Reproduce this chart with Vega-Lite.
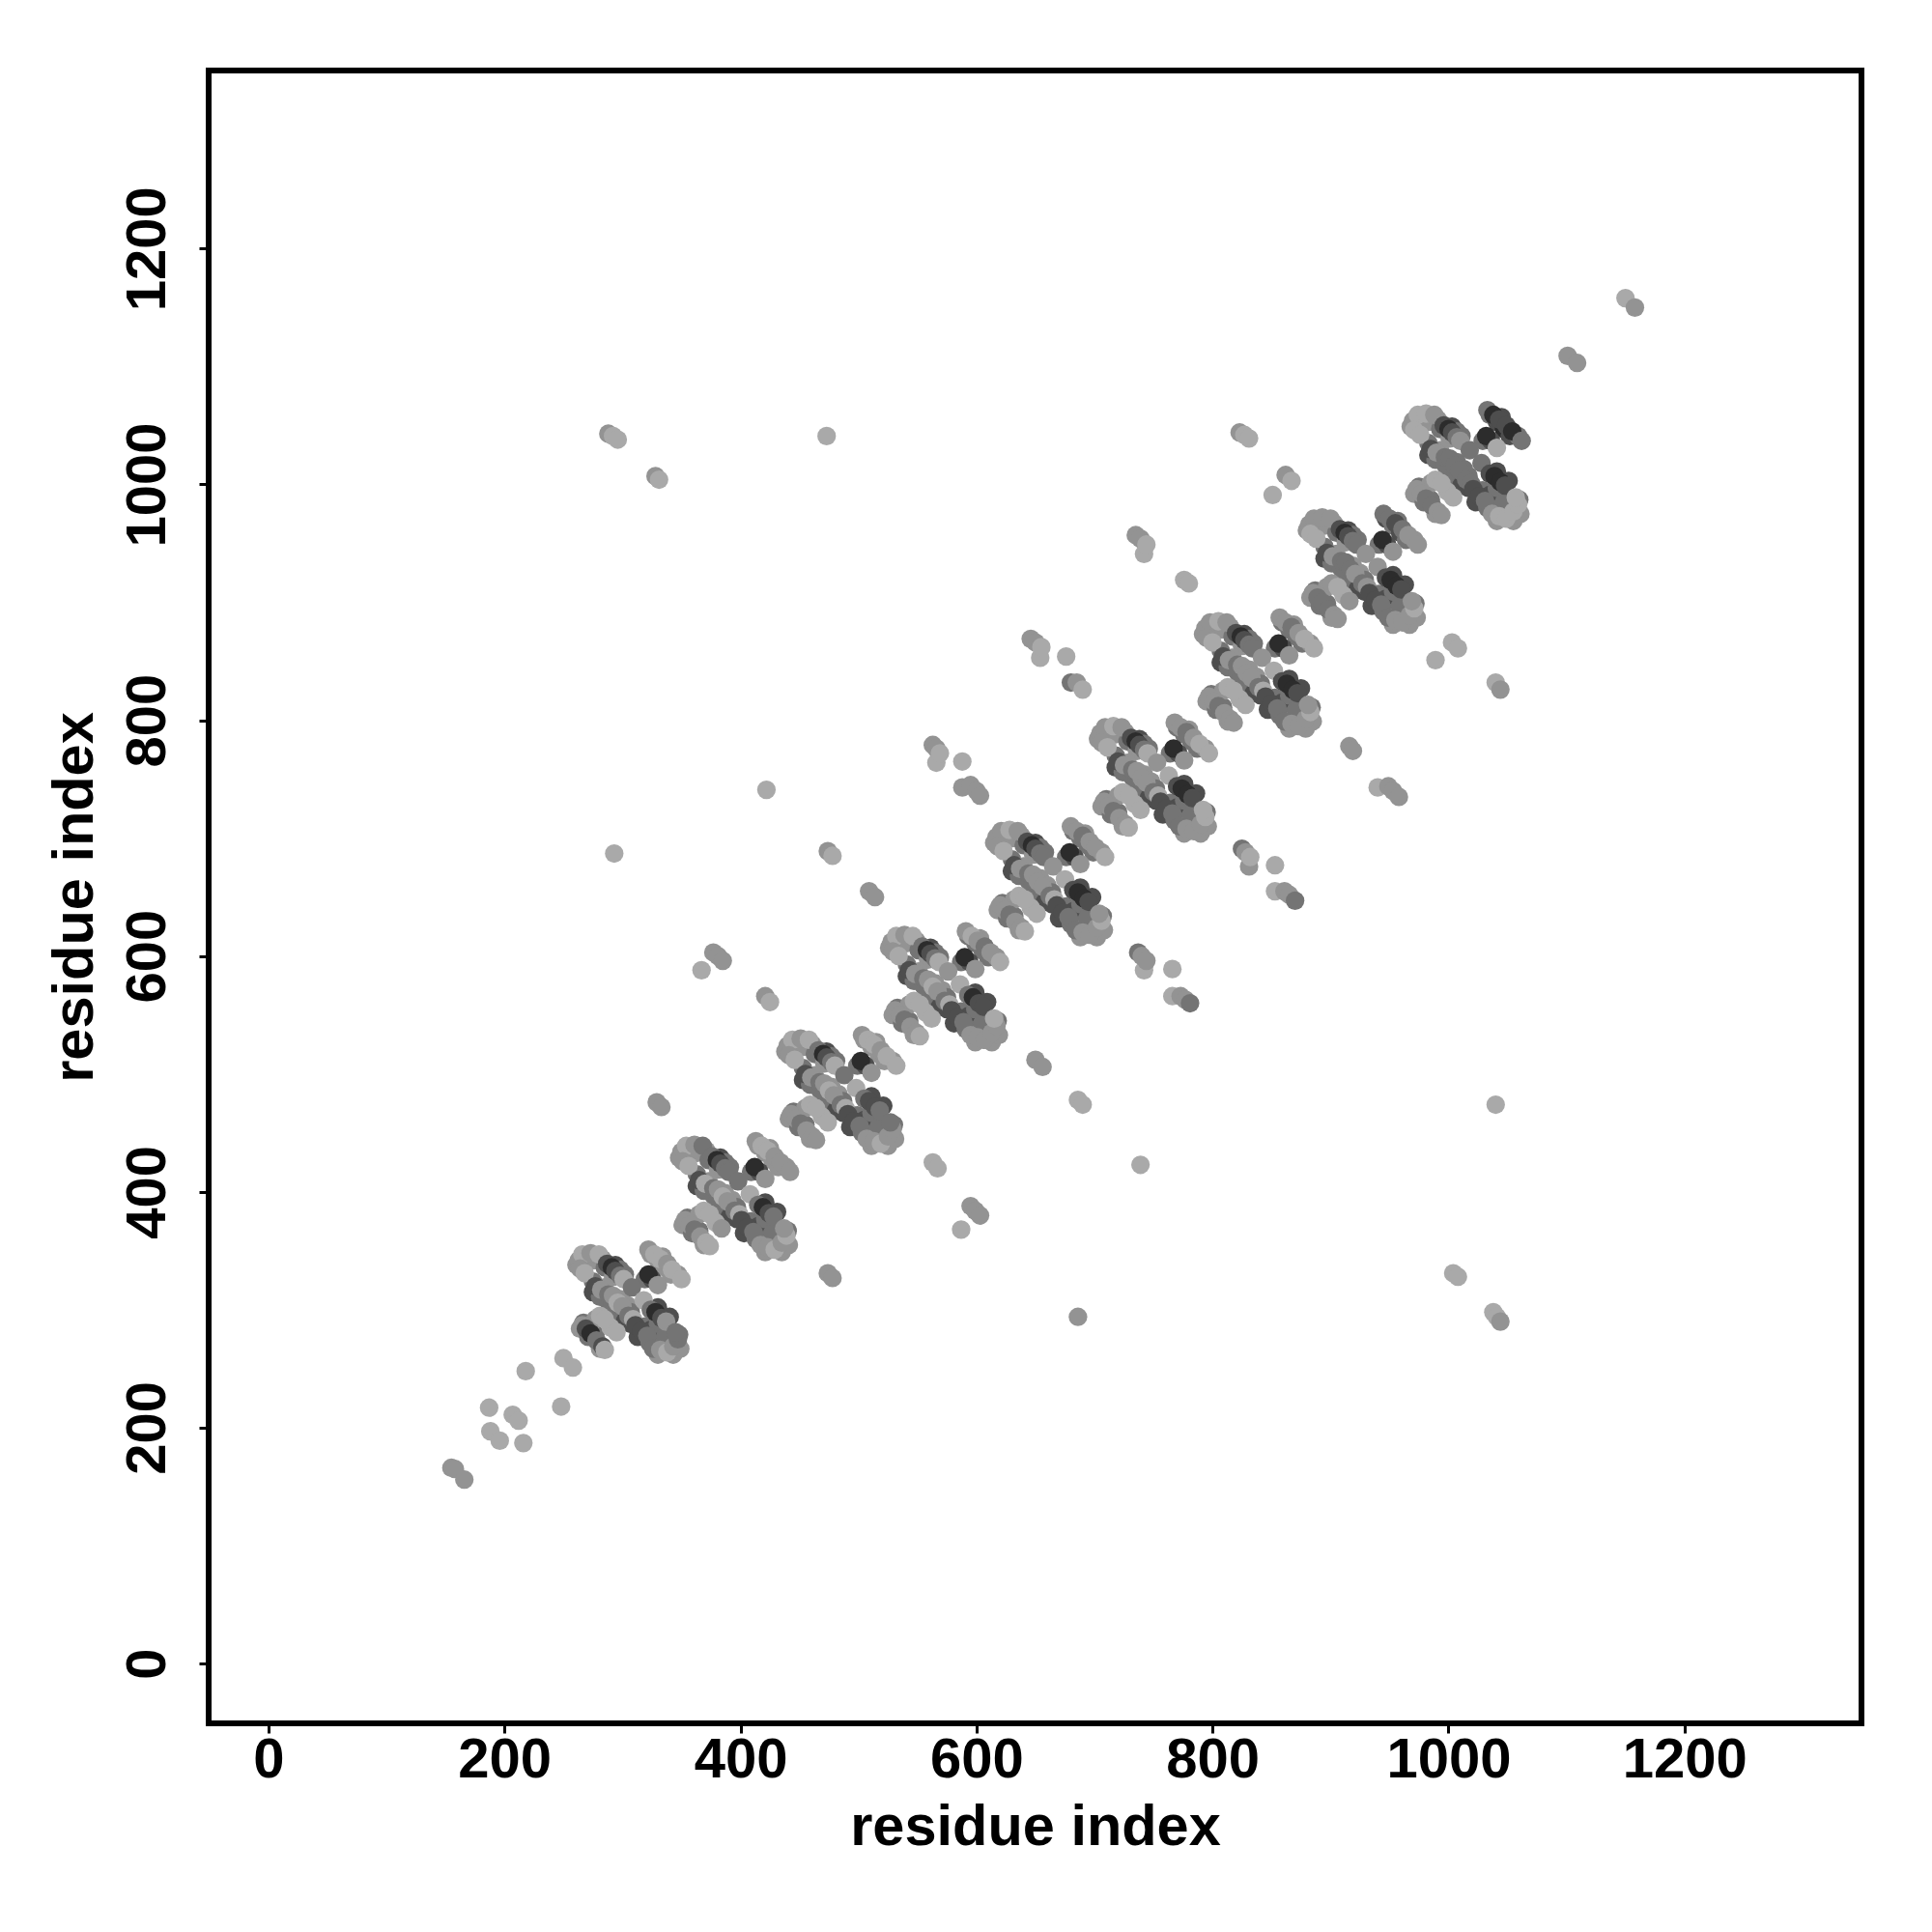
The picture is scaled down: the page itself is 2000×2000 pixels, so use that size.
{"$schema":"https://vega.github.io/schema/vega-lite/v6.json","autosize":{"type":"none"},"padding":{"left":216,"top":73,"right":70,"bottom":216},"width":1711,"height":1711,"background":"white","config":{"view":{"stroke":"black","strokeWidth":6,"fill":"white"},"axis":{"grid":false,"domain":false,"ticks":true,"tickColor":"black","tickWidth":3,"tickSize":10,"labelColor":"black","titleColor":"black","labelFont":"Liberation Sans","titleFont":"Liberation Sans","labelFontWeight":"bold","titleFontWeight":"bold","labelFontSize":58,"titleFontSize":59.5}},"data":{"values":[
{"x":155,"y":166,"s":2},{"x":158,"y":165,"s":2},{"x":166,"y":156,"s":2},{"x":187,"y":217,"s":1},{"x":188,"y":197,"s":1},{"x":196,"y":189,"s":1},{"x":207,"y":211,"s":1},{"x":212,"y":206,"s":1},{"x":216,"y":187,"s":1},{"x":218,"y":248,"s":1},{"x":248,"y":218,"s":1},{"x":250,"y":259,"s":1},{"x":258,"y":251,"s":1},
{"x":288,"y":1043,"s":2},{"x":292,"y":1041,"s":1},{"x":296,"y":1038,"s":1},{"x":328,"y":1007,"s":2},{"x":331,"y":1004,"s":1},{"x":473,"y":1041,"s":1},{"x":823,"y":1044,"s":2},{"x":827,"y":1042,"s":1},{"x":831,"y":1039,"s":1},{"x":851,"y":991,"s":1},{"x":862,"y":1008,"s":2},{"x":867,"y":1003,"s":1},
{"x":742,"y":941,"s":1},{"x":735,"y":957,"s":2},{"x":739,"y":954,"s":2},{"x":744,"y":949,"s":1},{"x":776,"y":919,"s":1},{"x":780,"y":916,"s":1},{"x":654,"y":853,"s":1},{"x":646,"y":869,"s":2},{"x":650,"y":866,"s":2},{"x":655,"y":862,"s":1},{"x":676,"y":854,"s":1},{"x":680,"y":832,"s":3},{"x":685,"y":832,"s":2},{"x":690,"y":826,"s":1},{"x":989,"y":851,"s":1},{"x":1003,"y":866,"s":1},{"x":1008,"y":861,"s":1},{"x":1040,"y":832,"s":1},{"x":1044,"y":826,"s":2},
{"x":566,"y":764,"s":1},{"x":563,"y":779,"s":2},{"x":566,"y":776,"s":2},{"x":569,"y":772,"s":1},{"x":588,"y":765,"s":1},{"x":588,"y":743,"s":2},{"x":595,"y":745,"s":2},{"x":600,"y":740,"s":2},{"x":603,"y":736,"s":2},{"x":916,"y":778,"s":2},{"x":919,"y":774,"s":2},{"x":940,"y":743,"s":1},{"x":949,"y":744,"s":2},{"x":953,"y":740,"s":2},{"x":958,"y":735,"s":2},{"x":422,"y":741,"s":1},{"x":293,"y":687,"s":1},{"x":474,"y":689,"s":2},{"x":478,"y":685,"s":1},{"x":509,"y":655,"s":2},{"x":514,"y":650,"s":2},
{"x":831,"y":676,"s":2},{"x":825,"y":691,"s":3},{"x":828,"y":688,"s":2},{"x":832,"y":684,"s":1},{"x":853,"y":677,"s":1},{"x":853,"y":655,"s":1},{"x":861,"y":655,"s":2},{"x":865,"y":652,"s":2},{"x":870,"y":647,"s":3},{"x":367,"y":588,"s":1},{"x":377,"y":603,"s":2},{"x":381,"y":600,"s":2},{"x":385,"y":596,"s":2},{"x":421,"y":566,"s":2},{"x":425,"y":561,"s":1},
{"x":742,"y":588,"s":1},{"x":737,"y":603,"s":3},{"x":740,"y":600,"s":2},{"x":744,"y":596,"s":2},{"x":766,"y":589,"s":1},{"x":766,"y":566,"s":1},{"x":773,"y":566,"s":2},{"x":777,"y":563,"s":2},{"x":781,"y":560,"s":3},{"x":650,"y":512,"s":2},{"x":656,"y":506,"s":2},{"x":686,"y":478,"s":1},{"x":690,"y":474,"s":1},{"x":329,"y":476,"s":2},{"x":333,"y":472,"s":2},{"x":563,"y":425,"s":1},{"x":567,"y":420,"s":1},{"x":739,"y":423,"s":1},{"x":1040,"y":474,"s":1},{"x":595,"y":388,"s":2},{"x":599,"y":384,"s":2},{"x":603,"y":380,"s":2},{"x":587,"y":368,"s":1},{"x":474,"y":331,"s":2},{"x":478,"y":327,"s":2},{"x":686,"y":294,"s":2},{"x":1004,"y":331,"s":1},{"x":1008,"y":328,"s":1},{"x":1038,"y":298,"s":1},{"x":1041,"y":294,"s":1},{"x":1044,"y":290,"s":2},{"x":1101,"y":1109,"s":2},{"x":1109,"y":1103,"s":2},{"x":1150,"y":1158,"s":1},{"x":1158,"y":1150,"s":2},
{"x":261,"y":338,"s":2},{"x":267,"y":340,"s":3},{"x":275,"y":342,"s":2},{"x":283,"y":343,"s":2},{"x":285,"y":336,"s":3},{"x":294,"y":338,"s":4},{"x":298,"y":334,"s":3},{"x":302,"y":330,"s":3},{"x":292,"y":328,"s":2},{"x":275,"y":324,"s":3},{"x":275,"y":315,"s":4},{"x":281,"y":311,"s":3},{"x":285,"y":319,"s":2},{"x":288,"y":307,"s":3},{"x":298,"y":309,"s":2},{"x":291,"y":302,"s":3},{"x":297,"y":298,"s":3},{"x":304,"y":304,"s":2},{"x":302,"y":290,"s":4},{"x":307,"y":298,"s":3},{"x":307,"y":288,"s":4},{"x":315,"y":286,"s":3},{"x":324,"y":347,"s":2},{"x":330,"y":342,"s":2},{"x":336,"y":336,"s":2},{"x":341,"y":330,"s":2},{"x":347,"y":330,"s":2},{"x":334,"y":345,"s":2},{"x":319,"y":326,"s":3},{"x":325,"y":326,"s":4},{"x":267,"y":289,"s":3},{"x":264,"y":284,"s":2},{"x":271,"y":277,"s":3},{"x":277,"y":279,"s":3},{"x":281,"y":267,"s":2},{"x":277,"y":292,"s":2},{"x":290,"y":285,"s":1},{"x":319,"y":286,"s":3},{"x":313,"y":277,"s":4},{"x":324,"y":283,"s":4},{"x":330,"y":302,"s":4},{"x":340,"y":294,"s":4},{"x":330,"y":288,"s":3},{"x":323,"y":272,"s":3},{"x":328,"y":271,"s":3},{"x":334,"y":269,"s":2},{"x":330,"y":262,"s":2},{"x":343,"y":262,"s":2},{"x":349,"y":267,"s":2},{"x":348,"y":279,"s":3},{"x":336,"y":277,"s":3},
{"x":348,"y":429,"s":2},{"x":355,"y":431,"s":3},{"x":363,"y":433,"s":2},{"x":371,"y":435,"s":2},{"x":373,"y":427,"s":3},{"x":383,"y":429,"s":4},{"x":387,"y":425,"s":3},{"x":391,"y":421,"s":3},{"x":381,"y":419,"s":2},{"x":363,"y":415,"s":3},{"x":363,"y":405,"s":4},{"x":369,"y":401,"s":3},{"x":373,"y":409,"s":2},{"x":377,"y":397,"s":3},{"x":387,"y":399,"s":2},{"x":380,"y":391,"s":3},{"x":386,"y":387,"s":3},{"x":393,"y":393,"s":2},{"x":391,"y":379,"s":4},{"x":397,"y":387,"s":3},{"x":397,"y":377,"s":4},{"x":405,"y":375,"s":3},{"x":415,"y":439,"s":2},{"x":421,"y":433,"s":2},{"x":427,"y":427,"s":2},{"x":432,"y":421,"s":2},{"x":439,"y":421,"s":2},{"x":425,"y":437,"s":2},{"x":409,"y":417,"s":3},{"x":416,"y":417,"s":4},{"x":355,"y":378,"s":3},{"x":351,"y":372,"s":2},{"x":359,"y":365,"s":3},{"x":365,"y":367,"s":3},{"x":369,"y":355,"s":2},{"x":365,"y":381,"s":2},{"x":379,"y":374,"s":1},{"x":409,"y":375,"s":3},{"x":403,"y":365,"s":4},{"x":415,"y":371,"s":4},{"x":421,"y":391,"s":4},{"x":431,"y":383,"s":4},{"x":421,"y":377,"s":3},{"x":413,"y":360,"s":3},{"x":419,"y":359,"s":3},{"x":425,"y":357,"s":2},{"x":421,"y":349,"s":2},{"x":435,"y":349,"s":2},{"x":441,"y":355,"s":2},{"x":440,"y":367,"s":3},{"x":427,"y":365,"s":3},
{"x":438,"y":519,"s":2},{"x":445,"y":521,"s":3},{"x":453,"y":523,"s":2},{"x":461,"y":525,"s":2},{"x":463,"y":517,"s":3},{"x":473,"y":519,"s":4},{"x":477,"y":515,"s":3},{"x":481,"y":511,"s":3},{"x":471,"y":509,"s":2},{"x":453,"y":505,"s":3},{"x":453,"y":495,"s":4},{"x":459,"y":491,"s":3},{"x":463,"y":499,"s":2},{"x":467,"y":487,"s":3},{"x":477,"y":489,"s":2},{"x":470,"y":481,"s":3},{"x":476,"y":477,"s":3},{"x":483,"y":483,"s":2},{"x":481,"y":469,"s":4},{"x":487,"y":477,"s":3},{"x":487,"y":467,"s":4},{"x":495,"y":465,"s":3},{"x":505,"y":529,"s":2},{"x":511,"y":523,"s":2},{"x":517,"y":517,"s":2},{"x":522,"y":511,"s":2},{"x":529,"y":511,"s":2},{"x":515,"y":527,"s":2},{"x":499,"y":507,"s":3},{"x":506,"y":507,"s":4},{"x":445,"y":468,"s":3},{"x":441,"y":462,"s":2},{"x":449,"y":455,"s":3},{"x":455,"y":457,"s":3},{"x":459,"y":445,"s":2},{"x":455,"y":471,"s":2},{"x":469,"y":464,"s":1},{"x":499,"y":465,"s":3},{"x":493,"y":455,"s":4},{"x":505,"y":461,"s":4},{"x":511,"y":481,"s":4},{"x":521,"y":473,"s":4},{"x":511,"y":467,"s":3},{"x":503,"y":450,"s":3},{"x":509,"y":449,"s":3},{"x":515,"y":447,"s":2},{"x":511,"y":439,"s":2},{"x":525,"y":439,"s":2},{"x":531,"y":445,"s":2},{"x":530,"y":457,"s":3},{"x":517,"y":455,"s":3},
{"x":526,"y":607,"s":2},{"x":533,"y":609,"s":3},{"x":541,"y":611,"s":2},{"x":549,"y":613,"s":2},{"x":551,"y":605,"s":3},{"x":561,"y":607,"s":4},{"x":565,"y":603,"s":3},{"x":569,"y":599,"s":3},{"x":559,"y":597,"s":2},{"x":541,"y":593,"s":3},{"x":541,"y":583,"s":4},{"x":547,"y":579,"s":3},{"x":551,"y":587,"s":2},{"x":555,"y":575,"s":3},{"x":565,"y":577,"s":2},{"x":558,"y":569,"s":3},{"x":564,"y":565,"s":3},{"x":571,"y":571,"s":2},{"x":569,"y":557,"s":4},{"x":575,"y":565,"s":3},{"x":575,"y":555,"s":4},{"x":583,"y":553,"s":3},{"x":593,"y":617,"s":3},{"x":599,"y":611,"s":3},{"x":605,"y":605,"s":3},{"x":610,"y":599,"s":3},{"x":617,"y":599,"s":2},{"x":603,"y":615,"s":2},{"x":587,"y":595,"s":3},{"x":594,"y":595,"s":4},{"x":533,"y":556,"s":3},{"x":529,"y":550,"s":2},{"x":537,"y":543,"s":3},{"x":543,"y":545,"s":3},{"x":547,"y":533,"s":2},{"x":543,"y":559,"s":2},{"x":557,"y":552,"s":1},{"x":587,"y":553,"s":3},{"x":581,"y":543,"s":4},{"x":593,"y":549,"s":4},{"x":599,"y":569,"s":4},{"x":609,"y":561,"s":4},{"x":599,"y":555,"s":3},{"x":591,"y":538,"s":3},{"x":597,"y":537,"s":3},{"x":603,"y":535,"s":2},{"x":599,"y":527,"s":2},{"x":613,"y":527,"s":2},{"x":619,"y":533,"s":2},{"x":618,"y":545,"s":3},{"x":605,"y":543,"s":3},
{"x":615,"y":696,"s":2},{"x":622,"y":698,"s":3},{"x":630,"y":700,"s":2},{"x":638,"y":702,"s":2},{"x":640,"y":694,"s":3},{"x":650,"y":696,"s":4},{"x":654,"y":692,"s":3},{"x":658,"y":688,"s":3},{"x":648,"y":686,"s":2},{"x":630,"y":682,"s":3},{"x":630,"y":672,"s":4},{"x":636,"y":668,"s":3},{"x":640,"y":676,"s":2},{"x":644,"y":664,"s":3},{"x":654,"y":666,"s":2},{"x":647,"y":658,"s":3},{"x":653,"y":654,"s":3},{"x":660,"y":660,"s":2},{"x":658,"y":646,"s":4},{"x":664,"y":654,"s":3},{"x":664,"y":644,"s":4},{"x":672,"y":642,"s":3},{"x":682,"y":706,"s":3},{"x":688,"y":700,"s":3},{"x":694,"y":694,"s":3},{"x":699,"y":688,"s":3},{"x":706,"y":688,"s":2},{"x":692,"y":704,"s":2},{"x":676,"y":684,"s":3},{"x":683,"y":684,"s":4},{"x":622,"y":645,"s":3},{"x":618,"y":639,"s":2},{"x":626,"y":632,"s":3},{"x":632,"y":634,"s":3},{"x":636,"y":622,"s":2},{"x":632,"y":648,"s":2},{"x":646,"y":641,"s":1},{"x":676,"y":642,"s":3},{"x":670,"y":632,"s":4},{"x":682,"y":638,"s":4},{"x":688,"y":658,"s":4},{"x":698,"y":650,"s":4},{"x":688,"y":644,"s":3},{"x":680,"y":627,"s":3},{"x":686,"y":626,"s":3},{"x":692,"y":624,"s":2},{"x":688,"y":616,"s":2},{"x":702,"y":616,"s":2},{"x":708,"y":622,"s":2},{"x":707,"y":634,"s":3},{"x":694,"y":632,"s":3},
{"x":703,"y":784,"s":2},{"x":710,"y":786,"s":3},{"x":718,"y":788,"s":2},{"x":726,"y":790,"s":2},{"x":728,"y":782,"s":3},{"x":738,"y":784,"s":4},{"x":742,"y":780,"s":3},{"x":746,"y":776,"s":3},{"x":736,"y":774,"s":2},{"x":718,"y":770,"s":3},{"x":718,"y":760,"s":4},{"x":724,"y":756,"s":3},{"x":728,"y":764,"s":2},{"x":732,"y":752,"s":3},{"x":742,"y":754,"s":2},{"x":735,"y":746,"s":3},{"x":741,"y":742,"s":3},{"x":748,"y":748,"s":2},{"x":746,"y":734,"s":4},{"x":752,"y":742,"s":3},{"x":752,"y":732,"s":4},{"x":760,"y":730,"s":3},{"x":770,"y":794,"s":3},{"x":776,"y":788,"s":3},{"x":782,"y":782,"s":3},{"x":787,"y":776,"s":3},{"x":794,"y":776,"s":2},{"x":780,"y":792,"s":2},{"x":764,"y":772,"s":3},{"x":771,"y":772,"s":4},{"x":710,"y":733,"s":3},{"x":706,"y":727,"s":2},{"x":714,"y":720,"s":3},{"x":720,"y":722,"s":3},{"x":724,"y":710,"s":2},{"x":720,"y":736,"s":2},{"x":734,"y":729,"s":1},{"x":764,"y":730,"s":3},{"x":758,"y":720,"s":4},{"x":770,"y":726,"s":4},{"x":776,"y":746,"s":4},{"x":786,"y":738,"s":4},{"x":776,"y":732,"s":3},{"x":768,"y":715,"s":3},{"x":774,"y":714,"s":3},{"x":780,"y":712,"s":2},{"x":776,"y":704,"s":2},{"x":790,"y":704,"s":2},{"x":796,"y":710,"s":2},{"x":795,"y":722,"s":3},{"x":782,"y":720,"s":3},
{"x":792,"y":873,"s":2},{"x":799,"y":875,"s":3},{"x":807,"y":877,"s":2},{"x":815,"y":879,"s":2},{"x":817,"y":871,"s":3},{"x":827,"y":873,"s":4},{"x":831,"y":869,"s":3},{"x":835,"y":865,"s":3},{"x":825,"y":863,"s":2},{"x":807,"y":859,"s":3},{"x":807,"y":849,"s":4},{"x":813,"y":845,"s":3},{"x":817,"y":853,"s":2},{"x":821,"y":841,"s":3},{"x":831,"y":843,"s":2},{"x":824,"y":835,"s":3},{"x":830,"y":831,"s":3},{"x":837,"y":837,"s":2},{"x":835,"y":823,"s":4},{"x":841,"y":831,"s":3},{"x":841,"y":821,"s":4},{"x":849,"y":819,"s":3},{"x":859,"y":883,"s":3},{"x":865,"y":877,"s":3},{"x":871,"y":871,"s":3},{"x":876,"y":865,"s":3},{"x":883,"y":865,"s":2},{"x":869,"y":881,"s":2},{"x":853,"y":861,"s":3},{"x":860,"y":861,"s":4},{"x":799,"y":822,"s":3},{"x":795,"y":816,"s":2},{"x":803,"y":809,"s":3},{"x":809,"y":811,"s":3},{"x":813,"y":799,"s":2},{"x":809,"y":825,"s":2},{"x":823,"y":818,"s":1},{"x":853,"y":819,"s":3},{"x":847,"y":809,"s":4},{"x":859,"y":815,"s":4},{"x":865,"y":835,"s":4},{"x":875,"y":827,"s":4},{"x":865,"y":821,"s":3},{"x":857,"y":804,"s":3},{"x":863,"y":803,"s":3},{"x":869,"y":801,"s":2},{"x":865,"y":793,"s":2},{"x":879,"y":793,"s":2},{"x":885,"y":799,"s":2},{"x":884,"y":811,"s":3},{"x":871,"y":809,"s":3},
{"x":880,"y":961,"s":2},{"x":887,"y":963,"s":3},{"x":895,"y":965,"s":2},{"x":903,"y":967,"s":2},{"x":905,"y":959,"s":3},{"x":915,"y":961,"s":4},{"x":919,"y":957,"s":3},{"x":923,"y":953,"s":3},{"x":913,"y":951,"s":2},{"x":895,"y":947,"s":3},{"x":895,"y":937,"s":4},{"x":901,"y":933,"s":3},{"x":905,"y":941,"s":2},{"x":909,"y":929,"s":3},{"x":919,"y":931,"s":2},{"x":912,"y":923,"s":3},{"x":918,"y":919,"s":3},{"x":925,"y":925,"s":2},{"x":923,"y":911,"s":4},{"x":929,"y":919,"s":3},{"x":929,"y":909,"s":4},{"x":937,"y":907,"s":3},{"x":947,"y":971,"s":4},{"x":953,"y":965,"s":3},{"x":959,"y":959,"s":4},{"x":964,"y":953,"s":3},{"x":971,"y":953,"s":2},{"x":957,"y":969,"s":3},{"x":941,"y":949,"s":3},{"x":948,"y":949,"s":4},{"x":887,"y":910,"s":3},{"x":883,"y":904,"s":2},{"x":891,"y":897,"s":3},{"x":897,"y":899,"s":3},{"x":901,"y":887,"s":2},{"x":897,"y":913,"s":2},{"x":911,"y":906,"s":1},{"x":941,"y":907,"s":3},{"x":935,"y":897,"s":4},{"x":947,"y":903,"s":4},{"x":953,"y":923,"s":4},{"x":963,"y":915,"s":4},{"x":953,"y":909,"s":3},{"x":945,"y":892,"s":3},{"x":951,"y":891,"s":3},{"x":957,"y":889,"s":2},{"x":953,"y":881,"s":2},{"x":967,"y":881,"s":2},{"x":973,"y":887,"s":2},{"x":972,"y":899,"s":3},{"x":959,"y":897,"s":3},
{"x":968,"y":1049,"s":2},{"x":975,"y":1051,"s":3},{"x":983,"y":1053,"s":2},{"x":991,"y":1055,"s":2},{"x":993,"y":1047,"s":3},{"x":1003,"y":1049,"s":4},{"x":1007,"y":1045,"s":3},{"x":1011,"y":1041,"s":3},{"x":1001,"y":1039,"s":2},{"x":983,"y":1035,"s":3},{"x":983,"y":1025,"s":4},{"x":989,"y":1021,"s":3},{"x":993,"y":1029,"s":2},{"x":997,"y":1017,"s":3},{"x":1007,"y":1019,"s":3},{"x":1000,"y":1011,"s":3},{"x":1006,"y":1007,"s":3},{"x":1013,"y":1013,"s":3},{"x":1011,"y":999,"s":4},{"x":1017,"y":1007,"s":3},{"x":1017,"y":997,"s":4},{"x":1025,"y":995,"s":3},{"x":1035,"y":1059,"s":3},{"x":1041,"y":1053,"s":4},{"x":1047,"y":1047,"s":5},{"x":1052,"y":1041,"s":4},{"x":1059,"y":1041,"s":3},{"x":1045,"y":1057,"s":4},{"x":1029,"y":1037,"s":3},{"x":1036,"y":1037,"s":4},{"x":975,"y":998,"s":3},{"x":971,"y":992,"s":2},{"x":979,"y":985,"s":3},{"x":985,"y":987,"s":3},{"x":989,"y":975,"s":2},{"x":985,"y":1001,"s":2},{"x":999,"y":994,"s":1},{"x":1029,"y":995,"s":3},{"x":1023,"y":985,"s":4},{"x":1035,"y":991,"s":4},{"x":1041,"y":1011,"s":4},{"x":1051,"y":1003,"s":4},{"x":1041,"y":997,"s":3},{"x":1033,"y":980,"s":3},{"x":1039,"y":979,"s":3},{"x":1045,"y":977,"s":2},{"x":1041,"y":969,"s":2},{"x":1055,"y":969,"s":2},{"x":1061,"y":975,"s":2},{"x":1060,"y":987,"s":3},{"x":1047,"y":985,"s":3},
{"x":263,"y":342,"s":2},{"x":266,"y":347,"s":1},{"x":273,"y":348,"s":2},{"x":264,"y":335,"s":2},{"x":268,"y":331,"s":1},{"x":280,"y":347,"s":1},{"x":277,"y":320,"s":4},{"x":282,"y":317,"s":2},{"x":287,"y":339,"s":4},{"x":291,"y":336,"s":5},{"x":294,"y":333,"s":4},{"x":298,"y":329,"s":3},{"x":301,"y":326,"s":1},{"x":308,"y":319,"s":3},{"x":288,"y":313,"s":3},{"x":292,"y":312,"s":2},{"x":296,"y":306,"s":1},{"x":300,"y":303,"s":2},{"x":305,"y":295,"s":3},{"x":309,"y":292,"s":1},{"x":311,"y":287,"s":4},{"x":318,"y":308,"s":1},{"x":322,"y":351,"s":2},{"x":327,"y":347,"s":1},{"x":332,"y":343,"s":1},{"x":338,"y":339,"s":2},{"x":342,"y":334,"s":1},{"x":350,"y":326,"s":1},{"x":322,"y":330,"s":5},{"x":330,"y":321,"s":2},{"x":266,"y":287,"s":2},{"x":269,"y":284,"s":4},{"x":273,"y":280,"s":5},{"x":278,"y":274,"s":3},{"x":283,"y":269,"s":4},{"x":285,"y":266,"s":1},{"x":281,"y":295,"s":1},{"x":285,"y":292,"s":1},{"x":295,"y":281,"s":1},{"x":316,"y":282,"s":4},{"x":321,"y":278,"s":3},{"x":324,"y":300,"s":3},{"x":328,"y":298,"s":5},{"x":333,"y":293,"s":4},{"x":337,"y":290,"s":2},{"x":326,"y":267,"s":3},{"x":332,"y":266,"s":2},{"x":338,"y":264,"s":1},{"x":343,"y":269,"s":2},{"x":347,"y":275,"s":3},{"x":345,"y":281,"s":3},
{"x":350,"y":434,"s":2},{"x":354,"y":439,"s":1},{"x":361,"y":440,"s":2},{"x":351,"y":426,"s":2},{"x":356,"y":422,"s":1},{"x":368,"y":439,"s":3},{"x":365,"y":410,"s":4},{"x":370,"y":407,"s":1},{"x":376,"y":430,"s":3},{"x":380,"y":427,"s":5},{"x":383,"y":424,"s":4},{"x":387,"y":420,"s":3},{"x":390,"y":417,"s":3},{"x":398,"y":409,"s":3},{"x":377,"y":403,"s":3},{"x":381,"y":402,"s":2},{"x":385,"y":396,"s":1},{"x":389,"y":392,"s":2},{"x":395,"y":384,"s":3},{"x":399,"y":381,"s":1},{"x":401,"y":376,"s":4},{"x":408,"y":398,"s":1},{"x":413,"y":443,"s":2},{"x":418,"y":439,"s":1},{"x":423,"y":435,"s":1},{"x":429,"y":430,"s":2},{"x":434,"y":425,"s":2},{"x":442,"y":417,"s":2},{"x":412,"y":421,"s":5},{"x":421,"y":411,"s":2},{"x":353,"y":376,"s":2},{"x":357,"y":372,"s":2},{"x":361,"y":368,"s":3},{"x":366,"y":362,"s":2},{"x":371,"y":357,"s":1},{"x":374,"y":354,"s":1},{"x":369,"y":384,"s":1},{"x":374,"y":381,"s":1},{"x":384,"y":369,"s":2},{"x":406,"y":370,"s":4},{"x":411,"y":366,"s":3},{"x":415,"y":389,"s":3},{"x":419,"y":387,"s":5},{"x":424,"y":382,"s":4},{"x":428,"y":379,"s":3},{"x":417,"y":355,"s":2},{"x":423,"y":353,"s":2},{"x":429,"y":351,"s":1},{"x":435,"y":357,"s":2},{"x":439,"y":363,"s":1},{"x":437,"y":369,"s":2},
{"x":440,"y":524,"s":2},{"x":444,"y":529,"s":1},{"x":451,"y":530,"s":2},{"x":441,"y":516,"s":2},{"x":446,"y":512,"s":1},{"x":458,"y":529,"s":1},{"x":455,"y":500,"s":4},{"x":460,"y":497,"s":2},{"x":466,"y":520,"s":3},{"x":470,"y":517,"s":5},{"x":473,"y":514,"s":4},{"x":477,"y":510,"s":3},{"x":480,"y":507,"s":1},{"x":488,"y":499,"s":3},{"x":467,"y":493,"s":3},{"x":471,"y":492,"s":2},{"x":475,"y":486,"s":1},{"x":479,"y":482,"s":2},{"x":485,"y":474,"s":3},{"x":489,"y":471,"s":1},{"x":491,"y":466,"s":4},{"x":498,"y":488,"s":1},{"x":503,"y":533,"s":2},{"x":508,"y":529,"s":1},{"x":513,"y":525,"s":1},{"x":519,"y":520,"s":2},{"x":524,"y":515,"s":1},{"x":532,"y":507,"s":1},{"x":502,"y":511,"s":5},{"x":511,"y":501,"s":2},{"x":443,"y":466,"s":2},{"x":447,"y":462,"s":2},{"x":451,"y":458,"s":3},{"x":456,"y":452,"s":2},{"x":461,"y":447,"s":2},{"x":464,"y":444,"s":2},{"x":459,"y":474,"s":1},{"x":464,"y":471,"s":1},{"x":474,"y":459,"s":1},{"x":496,"y":460,"s":4},{"x":501,"y":456,"s":3},{"x":505,"y":479,"s":3},{"x":509,"y":477,"s":4},{"x":514,"y":472,"s":4},{"x":518,"y":469,"s":3},{"x":507,"y":445,"s":2},{"x":513,"y":443,"s":2},{"x":519,"y":441,"s":1},{"x":525,"y":447,"s":2},{"x":529,"y":453,"s":2},{"x":527,"y":459,"s":3},
{"x":528,"y":612,"s":2},{"x":532,"y":617,"s":1},{"x":539,"y":618,"s":2},{"x":529,"y":604,"s":2},{"x":534,"y":600,"s":1},{"x":546,"y":617,"s":1},{"x":543,"y":588,"s":4},{"x":548,"y":585,"s":2},{"x":554,"y":608,"s":3},{"x":558,"y":605,"s":5},{"x":561,"y":602,"s":4},{"x":565,"y":598,"s":3},{"x":568,"y":595,"s":1},{"x":576,"y":587,"s":2},{"x":555,"y":581,"s":3},{"x":559,"y":580,"s":2},{"x":563,"y":574,"s":1},{"x":567,"y":570,"s":2},{"x":573,"y":562,"s":3},{"x":577,"y":559,"s":1},{"x":579,"y":554,"s":4},{"x":586,"y":576,"s":1},{"x":591,"y":621,"s":2},{"x":596,"y":617,"s":1},{"x":601,"y":613,"s":2},{"x":607,"y":608,"s":3},{"x":612,"y":603,"s":2},{"x":620,"y":595,"s":1},{"x":590,"y":599,"s":5},{"x":599,"y":589,"s":2},{"x":531,"y":554,"s":2},{"x":535,"y":550,"s":2},{"x":539,"y":546,"s":3},{"x":544,"y":540,"s":2},{"x":549,"y":535,"s":2},{"x":552,"y":532,"s":1},{"x":547,"y":562,"s":1},{"x":552,"y":559,"s":1},{"x":562,"y":547,"s":1},{"x":584,"y":548,"s":4},{"x":589,"y":544,"s":3},{"x":593,"y":567,"s":3},{"x":597,"y":565,"s":5},{"x":602,"y":560,"s":4},{"x":606,"y":557,"s":4},{"x":595,"y":533,"s":2},{"x":601,"y":531,"s":2},{"x":607,"y":529,"s":2},{"x":613,"y":535,"s":2},{"x":617,"y":541,"s":2},{"x":615,"y":547,"s":1},
{"x":617,"y":701,"s":2},{"x":621,"y":706,"s":2},{"x":628,"y":707,"s":1},{"x":618,"y":693,"s":2},{"x":623,"y":689,"s":1},{"x":635,"y":706,"s":2},{"x":632,"y":677,"s":4},{"x":637,"y":674,"s":2},{"x":643,"y":697,"s":4},{"x":647,"y":694,"s":5},{"x":650,"y":691,"s":4},{"x":654,"y":687,"s":3},{"x":657,"y":684,"s":3},{"x":665,"y":676,"s":2},{"x":644,"y":670,"s":3},{"x":648,"y":669,"s":2},{"x":652,"y":663,"s":2},{"x":656,"y":659,"s":2},{"x":662,"y":651,"s":3},{"x":666,"y":648,"s":1},{"x":668,"y":643,"s":4},{"x":675,"y":665,"s":1},{"x":680,"y":710,"s":2},{"x":685,"y":706,"s":2},{"x":690,"y":702,"s":3},{"x":696,"y":697,"s":2},{"x":701,"y":692,"s":2},{"x":709,"y":684,"s":1},{"x":679,"y":688,"s":5},{"x":688,"y":678,"s":2},{"x":620,"y":643,"s":2},{"x":624,"y":639,"s":2},{"x":628,"y":635,"s":3},{"x":633,"y":629,"s":2},{"x":638,"y":624,"s":2},{"x":641,"y":621,"s":1},{"x":636,"y":651,"s":1},{"x":641,"y":648,"s":1},{"x":651,"y":636,"s":1},{"x":673,"y":637,"s":4},{"x":678,"y":633,"s":3},{"x":682,"y":656,"s":4},{"x":686,"y":654,"s":5},{"x":691,"y":649,"s":5},{"x":695,"y":646,"s":4},{"x":684,"y":622,"s":3},{"x":690,"y":620,"s":2},{"x":696,"y":618,"s":2},{"x":702,"y":624,"s":2},{"x":706,"y":630,"s":1},{"x":704,"y":636,"s":2},
{"x":705,"y":789,"s":2},{"x":709,"y":794,"s":2},{"x":716,"y":795,"s":1},{"x":706,"y":781,"s":2},{"x":711,"y":777,"s":1},{"x":723,"y":794,"s":2},{"x":720,"y":765,"s":4},{"x":725,"y":762,"s":2},{"x":731,"y":785,"s":4},{"x":735,"y":782,"s":5},{"x":738,"y":779,"s":4},{"x":742,"y":775,"s":3},{"x":745,"y":772,"s":1},{"x":753,"y":764,"s":2},{"x":732,"y":758,"s":3},{"x":736,"y":757,"s":2},{"x":740,"y":751,"s":2},{"x":744,"y":747,"s":2},{"x":750,"y":739,"s":3},{"x":754,"y":736,"s":1},{"x":756,"y":731,"s":4},{"x":763,"y":753,"s":1},{"x":768,"y":798,"s":2},{"x":773,"y":794,"s":2},{"x":778,"y":790,"s":3},{"x":784,"y":785,"s":2},{"x":789,"y":780,"s":1},{"x":797,"y":772,"s":1},{"x":767,"y":776,"s":5},{"x":776,"y":766,"s":2},{"x":708,"y":731,"s":2},{"x":712,"y":727,"s":2},{"x":716,"y":723,"s":3},{"x":721,"y":717,"s":2},{"x":726,"y":712,"s":2},{"x":729,"y":709,"s":1},{"x":724,"y":739,"s":1},{"x":729,"y":736,"s":1},{"x":739,"y":724,"s":1},{"x":761,"y":725,"s":4},{"x":766,"y":721,"s":3},{"x":770,"y":744,"s":4},{"x":774,"y":742,"s":5},{"x":779,"y":737,"s":5},{"x":783,"y":734,"s":4},{"x":772,"y":710,"s":3},{"x":778,"y":708,"s":2},{"x":784,"y":706,"s":2},{"x":790,"y":712,"s":2},{"x":794,"y":718,"s":1},{"x":792,"y":724,"s":1},
{"x":794,"y":878,"s":2},{"x":798,"y":883,"s":2},{"x":805,"y":884,"s":1},{"x":795,"y":870,"s":2},{"x":800,"y":866,"s":1},{"x":812,"y":883,"s":2},{"x":809,"y":854,"s":4},{"x":814,"y":851,"s":2},{"x":820,"y":874,"s":4},{"x":824,"y":871,"s":5},{"x":827,"y":868,"s":4},{"x":831,"y":864,"s":3},{"x":834,"y":861,"s":3},{"x":842,"y":853,"s":2},{"x":821,"y":847,"s":3},{"x":825,"y":846,"s":2},{"x":829,"y":840,"s":2},{"x":833,"y":836,"s":2},{"x":839,"y":828,"s":3},{"x":843,"y":825,"s":1},{"x":845,"y":820,"s":4},{"x":852,"y":842,"s":1},{"x":857,"y":887,"s":2},{"x":862,"y":883,"s":2},{"x":867,"y":879,"s":3},{"x":873,"y":874,"s":2},{"x":878,"y":869,"s":1},{"x":886,"y":861,"s":1},{"x":856,"y":865,"s":5},{"x":865,"y":855,"s":2},{"x":797,"y":820,"s":2},{"x":801,"y":816,"s":2},{"x":805,"y":812,"s":3},{"x":810,"y":806,"s":2},{"x":815,"y":801,"s":2},{"x":818,"y":798,"s":2},{"x":813,"y":828,"s":1},{"x":818,"y":825,"s":1},{"x":828,"y":813,"s":1},{"x":850,"y":814,"s":4},{"x":855,"y":810,"s":3},{"x":859,"y":833,"s":4},{"x":863,"y":831,"s":5},{"x":868,"y":826,"s":5},{"x":872,"y":823,"s":4},{"x":861,"y":799,"s":3},{"x":867,"y":797,"s":2},{"x":873,"y":795,"s":2},{"x":879,"y":801,"s":2},{"x":883,"y":807,"s":1},{"x":881,"y":813,"s":2},
{"x":882,"y":966,"s":2},{"x":886,"y":971,"s":2},{"x":893,"y":972,"s":2},{"x":883,"y":958,"s":1},{"x":888,"y":954,"s":1},{"x":900,"y":971,"s":2},{"x":897,"y":942,"s":4},{"x":902,"y":939,"s":2},{"x":908,"y":962,"s":4},{"x":912,"y":959,"s":5},{"x":915,"y":956,"s":4},{"x":919,"y":952,"s":3},{"x":922,"y":949,"s":3},{"x":930,"y":941,"s":2},{"x":909,"y":935,"s":3},{"x":913,"y":934,"s":3},{"x":917,"y":928,"s":3},{"x":921,"y":924,"s":2},{"x":927,"y":916,"s":3},{"x":931,"y":913,"s":2},{"x":933,"y":908,"s":4},{"x":940,"y":930,"s":2},{"x":945,"y":975,"s":3},{"x":950,"y":971,"s":3},{"x":955,"y":967,"s":4},{"x":961,"y":962,"s":3},{"x":966,"y":957,"s":2},{"x":974,"y":949,"s":2},{"x":944,"y":953,"s":5},{"x":953,"y":943,"s":2},{"x":885,"y":908,"s":2},{"x":889,"y":904,"s":3},{"x":893,"y":900,"s":3},{"x":898,"y":894,"s":3},{"x":903,"y":889,"s":2},{"x":906,"y":886,"s":2},{"x":901,"y":916,"s":2},{"x":906,"y":913,"s":1},{"x":916,"y":901,"s":2},{"x":938,"y":902,"s":4},{"x":943,"y":898,"s":3},{"x":947,"y":921,"s":4},{"x":951,"y":919,"s":5},{"x":956,"y":914,"s":5},{"x":960,"y":911,"s":4},{"x":949,"y":887,"s":3},{"x":955,"y":885,"s":2},{"x":961,"y":883,"s":2},{"x":967,"y":889,"s":2},{"x":971,"y":895,"s":1},{"x":969,"y":901,"s":2},
{"x":970,"y":1054,"s":2},{"x":974,"y":1059,"s":1},{"x":981,"y":1060,"s":1},{"x":971,"y":1046,"s":1},{"x":976,"y":1042,"s":1},{"x":988,"y":1059,"s":2},{"x":985,"y":1030,"s":4},{"x":990,"y":1027,"s":2},{"x":996,"y":1050,"s":4},{"x":1000,"y":1047,"s":5},{"x":1003,"y":1044,"s":4},{"x":1007,"y":1040,"s":3},{"x":1010,"y":1037,"s":2},{"x":1018,"y":1029,"s":3},{"x":997,"y":1023,"s":3},{"x":1001,"y":1022,"s":3},{"x":1005,"y":1016,"s":3},{"x":1009,"y":1012,"s":3},{"x":1015,"y":1004,"s":3},{"x":1019,"y":1001,"s":3},{"x":1021,"y":996,"s":4},{"x":1028,"y":1018,"s":3},{"x":1033,"y":1063,"s":3},{"x":1038,"y":1059,"s":5},{"x":1043,"y":1055,"s":4},{"x":1049,"y":1050,"s":4},{"x":1054,"y":1045,"s":5},{"x":1062,"y":1037,"s":3},{"x":1032,"y":1041,"s":5},{"x":1041,"y":1031,"s":1},{"x":973,"y":996,"s":2},{"x":977,"y":992,"s":2},{"x":981,"y":988,"s":3},{"x":986,"y":982,"s":3},{"x":991,"y":977,"s":2},{"x":994,"y":974,"s":2},{"x":989,"y":1004,"s":1},{"x":994,"y":1001,"s":1},{"x":1004,"y":989,"s":1},{"x":1026,"y":990,"s":4},{"x":1031,"y":986,"s":3},{"x":1035,"y":1009,"s":4},{"x":1039,"y":1007,"s":5},{"x":1044,"y":1002,"s":5},{"x":1048,"y":999,"s":4},{"x":1037,"y":975,"s":2},{"x":1043,"y":973,"s":1},{"x":1049,"y":971,"s":1},{"x":1055,"y":977,"s":1},{"x":1059,"y":983,"s":1},{"x":1057,"y":989,"s":1}
]},"mark":{"type":"circle","size":370,"opacity":1,"clip":true},"encoding":{"x":{"field":"x","type":"quantitative","scale":{"domain":[-50.7,1350],"nice":false,"zero":false},"axis":{"title":"residue index","format":"d","values":[0,200,400,600,800,1000,1200],"labelPadding":-1,"titlePadding":11,"labelFlush":false,"labelOverlap":false}},"y":{"field":"y","type":"quantitative","scale":{"domain":[-50.7,1351],"nice":false,"zero":false},"axis":{"title":"residue index","format":"d","values":[0,200,400,600,800,1000,1200],"labelAngle":-90,"labelAlign":"center","labelBaseline":"bottom","labelPadding":24,"titlePadding":17,"labelFlush":false,"labelOverlap":false}},"color":{"field":"s","type":"quantitative","legend":null,"scale":{"domain":[1,2,3,4,5],"range":["#a9a9a9","#939393","#747474","#4e4e4e","#2c2c2c"]}}}}
